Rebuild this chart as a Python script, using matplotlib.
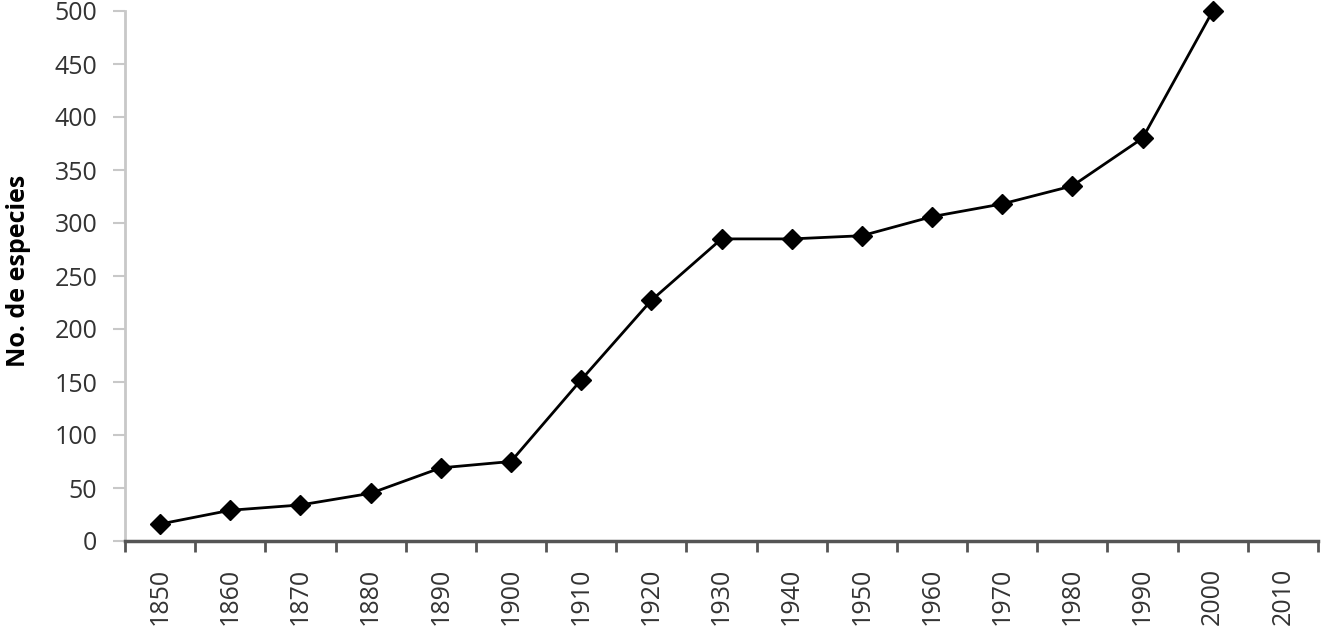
import numpy as np
import matplotlib.pyplot as plt

# data
years = ['1850', '1860', '1870', '1880', '1890', '1900', '1910', '1920', '1930',
         '1940', '1950', '1960', '1970', '1980', '1990', '2000', '2010']
species = [16, 29, 34, 45, 69, 75, 152, 227, 285, 285, 288, 306, 318, 335, 380, 500]
y_ticks = [0, 50, 100, 150, 200, 250, 300, 350, 400, 450, 500]

plt.rcParams['font.family'] = ['Open Sans', 'DejaVu Sans']

fig = plt.figure(figsize=(13.22, 6.29), dpi=100)
ax = fig.add_axes([125/1322, 1 - 541/629, (1318 - 125)/1322, (541 - 11)/629])

x = np.arange(len(species))
ax.plot(x, species, color='black', lw=2, marker='D', markersize=10,
        markerfacecolor='black', markeredgecolor='black', clip_on=False, zorder=3)

ax.set_xlim(-0.5, len(years) - 0.5)
ax.set_ylim(0, 500)

# category axis: ticks between categories, labels in the middle
ax.set_xticks(np.arange(len(years) + 1) - 0.5)
ax.set_xticklabels([])
ax.set_xticks(np.arange(len(years)), minor=True)
ax.set_xticklabels(years, minor=True, rotation=90, fontsize=18, color='#333333')
ax.tick_params(axis='x', which='major', direction='out', length=8, width=2, color='#555555')
ax.tick_params(axis='x', which='minor', length=0, pad=19)

ax.set_yticks(y_ticks)
ax.set_yticklabels([str(v) for v in y_ticks], fontsize=18, color='#333333')
ax.tick_params(axis='y', direction='out', length=9, width=1.5, color='#c8c8c8', pad=11)

for s in ['top', 'right']:
    ax.spines[s].set_visible(False)
ax.spines['left'].set_color('#c8c8c8')
ax.spines['left'].set_linewidth(2)
ax.spines['bottom'].set_color('#555555')
ax.spines['bottom'].set_linewidth(2.5)

ax.set_ylabel('No. de especies', fontsize=18, fontweight='bold')
ax.yaxis.set_label_coords(-0.079, 0.51)

fig.savefig('out.png', dpi=100, facecolor='white')
